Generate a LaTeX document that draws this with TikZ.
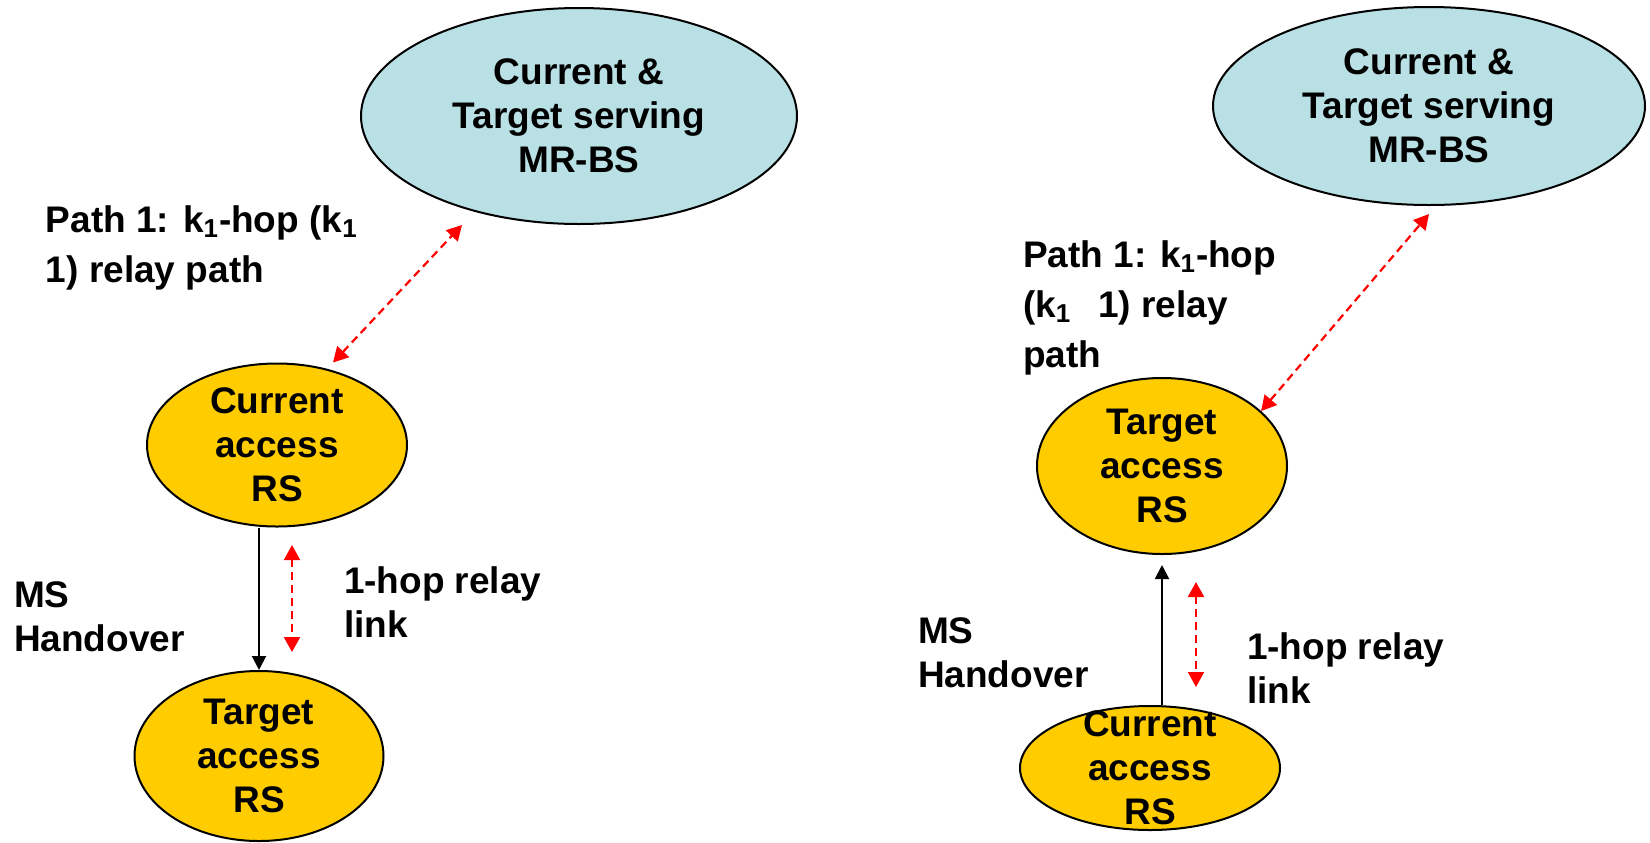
\documentclass[tikz,border=0pt]{standalone}
\usepackage{fontspec}
\setmainfont{Liberation Sans}
\usetikzlibrary{arrows.meta,shapes}
\definecolor{bs_blue}{RGB}{185,224,228}
\definecolor{rs_yellow}{RGB}{255,204,0}
\tikzset{every scope/.style={line width=1pt}}
\def\bigbold{\fontsize{18.5pt}{22pt}\selectfont\bfseries}
\def\pathbold{\fontsize{18.5pt}{25pt}\selectfont\bfseries}
\tikzstyle{bs_state} =
  [ ellipse
  , draw
  , fill=bs_blue
  , inner sep=0pt
  ]
\tikzstyle{rs_state} =
  [ ellipse
  , draw
  , fill=rs_yellow
  , inner sep=0pt
  ]
\tikzstyle{state_text} =
  [ align=center
  , inner sep=0pt
  , font=\bigbold
  ]
\tikzstyle{note} =
  [ align=left
  , inner sep=0pt
  , anchor=base west
  , font=\bigbold
  ]
\tikzstyle{relay_link} =
  [ {Triangle[length=7.5pt,width=8pt]}-{Triangle[length=7.5pt,width=8pt]}
  , red
  , dash pattern=on 4pt off 2.5pt
  , line width=1.1pt
  ]
\tikzstyle{handover} =
  [ -{Triangle[length=7pt,width=7pt]}
  , line width=1pt
  ]
\def\ServingBS{Current \&\\Target serving\\MR-BS}
\def\CurrentRS{Current\\access\\RS}
\def\TargetRS{Target\\access\\RS}
\def\MSHandover{MS\\Handover}
\def\OneHopLink{1-hop relay\\link}
\def\PathLeft{Path 1: k\textsubscript{1}-hop (k\textsubscript{1}\\1) relay path}
\def\PathRight{Path 1: k\textsubscript{1}-hop\\(k\textsubscript{1}\hspace{0.45em} 1) relay\\path}

\begin{document}
\begin{tikzpicture}[x=0.5pt,y=-0.5pt]
    \useasboundingbox (0,0) rectangle (1650,842);

    % left: handover down
    \node[bs_state, minimum width=218pt, minimum height=108pt] (ServingBS_A)  at ( 579, 116) {};
    \node[rs_state, minimum width=130pt, minimum height=81.5pt] (CurrentRS_A) at ( 277, 445) {};
    \node[rs_state, minimum width=124.5pt, minimum height=85pt] (TargetRS_A)  at ( 259, 756) {};
    \node[state_text] (ServingBS_A_text) at (ServingBS_A) {\ServingBS};
    \node[state_text] (CurrentRS_A_text) at (CurrentRS_A) {\CurrentRS};
    \node[state_text] (TargetRS_A_text)  at (TargetRS_A)  {\TargetRS};

    % notes sit on the baseline of their last line
    \node[note, font=\pathbold] (PathLabel_A)  at (  45, 282) {\PathLeft};
    \node[note]                 (Handover_A)   at (  13, 651) {\MSHandover};
    \node[note]                 (OneHop_A)     at ( 343, 637) {\OneHopLink};

    % right: handover up
    \node[bs_state, minimum width=216pt, minimum height=99pt] (ServingBS_B)   at (1429, 106) {};
    \node[rs_state, minimum width=125pt, minimum height=88pt] (TargetRS_B)    at (1162, 466) {};
    \node[rs_state, minimum width=130pt, minimum height=62pt] (CurrentRS_B)   at (1150, 768) {};
    \node[state_text] (ServingBS_B_text) at (ServingBS_B) {\ServingBS};
    \node[state_text] (TargetRS_B_text)  at (TargetRS_B)  {\TargetRS};
    \node[state_text] (CurrentRS_B_text) at (CurrentRS_B) {\CurrentRS};

    \node[note, font=\pathbold] (PathLabel_B)  at (1022, 367) {\PathRight};
    \node[note]                 (Handover_B)   at ( 917, 687) {\MSHandover};
    \node[note]                 (OneHop_B)     at (1246, 703) {\OneHopLink};

    \coordinate (Link_A_top) at ( 292, 545);
    \coordinate (Link_A_bot) at ( 292, 652);
    \coordinate (Link_B_top) at (1196, 582);
    \coordinate (Link_B_bot) at (1196, 687);

    \draw[relay_link] ([xshift=28pt]CurrentRS_A.north) -- ([xshift=-58.5pt]ServingBS_A.south);
    \draw[relay_link] (Link_A_top) -- (Link_A_bot);
    \draw[handover]   (CurrentRS_A.south -| TargetRS_A) -- (TargetRS_A.north);

    \draw[relay_link] (TargetRS_B.29) -- ([yshift=-4pt]ServingBS_B.south);
    \draw[relay_link] (Link_B_top) -- (Link_B_bot);
    \draw[handover, shorten >=5pt] (CurrentRS_B.north -| TargetRS_B) -- (TargetRS_B.south);
  \end{tikzpicture}
\end{document}
